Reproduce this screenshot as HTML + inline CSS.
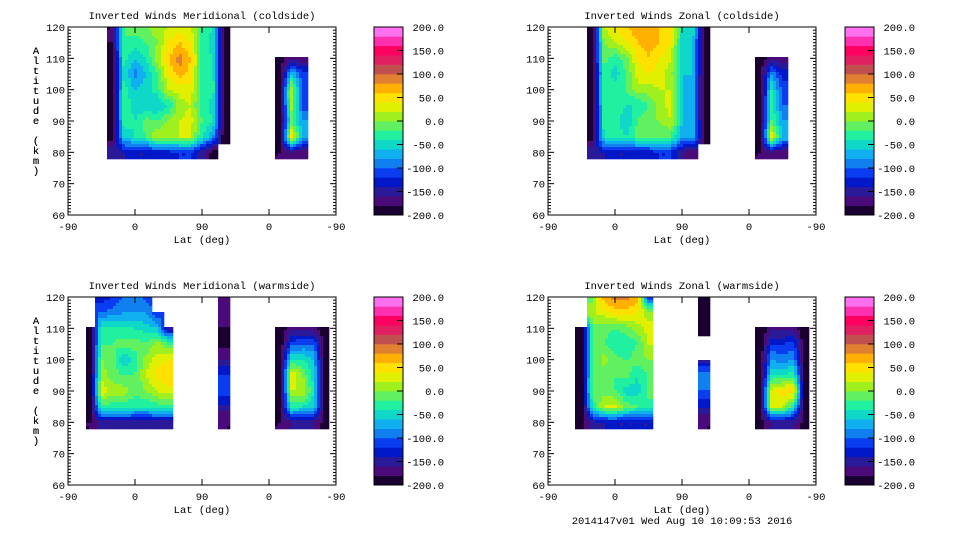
<!DOCTYPE html>
<html><head><meta charset="utf-8"><style>
html,body{margin:0;padding:0;background:#fff;width:960px;height:540px;overflow:hidden}
svg{display:block}
text{font-family:"Liberation Mono",monospace;font-size:10.5px;fill:#000}
</style></head><body>
<svg id="chart" width="960" height="540" viewBox="0 0 960 540" xmlns="http://www.w3.org/2000/svg"></svg>
<script>
// grid categories
const uCols = [0,15,30,45,60,75,90,105,120,135,150,165,180,195,210,225,240,255,270,285,300,315,330,345,360];
const altRows = [120,115,110,105,100,95,90,85,80];
const xTickU = [0,90,180,270,360];
const xTickLabels = ["-90","0","90","0","-90"];
const yTickVals = [60,70,80,90,100,110,120];
const cbTickVals = [200,150,100,50,0,-50,-100,-150,-200];
const N = null;
// values per column index (rows 120..80)
const merCold = {
 4:[-180,-180,-200,-200,-200,-200,-200,-190,-150],
 5:[-20,-20,-30,-40,-30,-20,-30,-50,-140],
 6:[-10,-30,-60,-90,-60,-50,-40,-40,-140],
 7:[0,-20,-40,-60,-50,-60,-10,-20,-140],
 8:[10,0,10,-20,-30,-60,-20,20,-130],
 9:[20,40,60,40,20,-40,0,20,-130],
 10:[30,60,90,70,30,10,20,20,-120],
 11:[20,40,60,50,30,20,30,20,-120],
 12:[-20,-30,-30,-30,-30,-30,-20,-40,-150],
 13:[-40,-50,-40,-40,-30,-50,-40,-80,-190],
 14:[-200,-200,-200,-200,-200,-200,-200,-200,N],
 19:[N,N,-190,-200,-200,-200,-200,-200,-180],
 20:[N,N,-170,-60,20,10,-20,50,-170],
 21:[N,N,-180,-110,-120,-110,-80,-60,-180]
};
const zonCold = {
 4:[-200,-200,-200,-200,-200,-200,-200,-190,-150],
 5:[20,0,-10,-30,-20,-30,-30,-40,-140],
 6:[40,20,-30,-50,-30,-30,-20,-30,-140],
 7:[60,40,-10,-20,-20,-40,-60,-40,-140],
 8:[70,60,40,30,10,-40,-20,-10,-130],
 9:[70,70,60,40,10,-20,0,-10,-130],
 10:[60,60,40,30,20,10,0,-20,-120],
 11:[50,40,20,10,20,30,20,-20,-120],
 12:[-40,-50,-50,-60,-60,-60,-60,-70,-160],
 13:[-50,-60,-60,-60,-70,-70,-60,-60,-180],
 14:[-200,-200,-200,-200,-200,-200,-200,-200,N],
 19:[N,N,-190,-200,-200,-200,-200,-200,-180],
 20:[N,N,-170,-80,-40,-20,-20,40,-170],
 21:[N,N,-170,-130,-110,-100,-80,-60,-170]
};
const merWarm = {
 2:[N,N,-190,-200,-200,-200,-200,-200,-180],
 3:[-130,-100,-30,-20,0,10,40,-30,-150],
 4:[-120,-90,-30,-20,-10,-10,10,-30,-150],
 5:[-100,-80,-40,-10,-60,-20,10,-30,-150],
 6:[-90,-80,-40,-10,-30,-20,-10,-40,-150],
 7:[-110,-80,-50,-20,10,20,0,-40,-150],
 8:[N,-120,-60,10,30,50,20,-30,-150],
 9:[N,N,-150,-20,40,60,30,-30,-150],
 14:[-170,-160,-180,-190,-160,-120,-100,-150,-180],
 19:[N,N,-190,-200,-200,-200,-200,-200,-180],
 20:[N,N,-170,-110,-40,40,20,-30,-160],
 21:[N,N,-170,-100,-40,0,20,-40,-160],
 22:[N,N,-170,-100,-60,-50,-40,-50,-160],
 23:[N,N,-200,-200,-200,-200,-200,-200,-190]
};
const zonWarm = {
 3:[N,N,-200,-200,-200,-200,-200,-200,-190],
 4:[-10,20,-10,-20,-20,-10,0,-40,-150],
 5:[70,30,-10,-20,10,-10,-10,20,-140],
 6:[90,50,-20,-40,-10,-20,-20,30,-140],
 7:[90,50,-10,-40,-20,-10,-50,-10,-140],
 8:[70,40,10,-20,-10,-40,-50,-20,-140],
 9:[-120,10,30,20,0,-20,-10,-30,-140],
 14:[-190,-190,-190,N,-160,-80,-100,-140,-180],
 19:[N,N,-200,-200,-200,-200,-200,-200,-190],
 20:[N,N,-170,-120,-80,-40,30,20,-160],
 21:[N,N,-170,-120,-90,-40,50,20,-160],
 22:[N,N,-170,-110,-80,-30,60,-40,-160],
 23:[N,N,-200,-200,-200,-200,-200,-200,-190]
};
const binColors = ["#1a0030","#4a0a7a","#2a1a9a","#0018c8","#0a3cf0","#1080f0","#10b0f0","#10d8c8","#20f0a0","#60f060","#a0f020","#e0f000","#ffe000","#ffb000","#e08030","#c05050","#e02060","#ff0060","#ff30b0","#ff70f0"];

const NS="http://www.w3.org/2000/svg";
const svg=document.getElementById('chart');
function mk(tag,attrs,parent){const e=document.createElementNS(NS,tag);for(const k in attrs)e.setAttribute(k,attrs[k]);(parent||svg).appendChild(e);return e;}
function colorOf(v){let i=Math.floor((v+200)/20);if(i<0)i=0;if(i>19)i=19;return binColors[i];}

const PW=268,PH=188;
const panels=[
 {x0:68,y0:27,cb:374,title:"Inverted Winds Meridional (coldside)",data:merCold,name:"meridional-coldside"},
 {x0:548,y0:27,cb:845,title:"Inverted Winds Zonal (coldside)",data:zonCold,name:"zonal-coldside"},
 {x0:68,y0:297,cb:374,title:"Inverted Winds Meridional (warmside)",data:merWarm,name:"meridional-warmside"},
 {x0:548,y0:297,cb:845,title:"Inverted Winds Zonal (warmside)",data:zonWarm,name:"zonal-warmside"}
];

function getV(data,ci,ri){const c=data[ci];if(!c)return null;if(ri<0||ri>=altRows.length)return null;const v=c[ri];return v===undefined?null:v;}

panels.forEach(p=>{
 const g=mk('g',{});
 
 
 const xS=u=>p.x0+u/360*PW;
 const yS=a=>p.y0+(120-a)/60*PH;
 const uStep=uCols[1]-uCols[0], aStep=altRows[0]-altRows[1];
 const hm=mk('g',{},g);
 
 
 const cs=3;
 for(let py=0;py<PH;py+=cs){
  for(let px=0;px<PW;px+=cs){
   const u=(px+cs/2)/PW*360, a=120-(py+cs/2)/PH*60;
   const ci=Math.round(u/uStep), ri=Math.round((120-a)/aStep);
   if(ri<0||ri>=altRows.length)continue;
   if(a<altRows[altRows.length-1]-aStep/2)continue;
   if(getV(p.data,ci,ri)===null)continue;
   // don't extend above a block's top row
   if(a>altRows[ri] && getV(p.data,ci,ri-1)===null && ri>0)continue;
   const fu=u/uStep, fr=(120-a)/aStep;
   const c0=Math.floor(fu), r0=Math.floor(fr);
   let s=0,w=0;
   for(const [cc,rr,ww] of [[c0,r0,(1-(fu-c0))*(1-(fr-r0))],[c0+1,r0,(fu-c0)*(1-(fr-r0))],[c0,r0+1,(1-(fu-c0))*(fr-r0)],[c0+1,r0+1,(fu-c0)*(fr-r0)]]){
     const rc=Math.min(Math.max(rr,0),altRows.length-1);
     const v=getV(p.data,cc,rc); if(v!==null&&ww>0){s+=v*ww;w+=ww;}
   }
   const val=w>0?s/w:getV(p.data,ci,ri);
   const r=mk('rect',{x:p.x0+px,y:p.y0+py,width:cs+0.3,height:cs+0.3,fill:colorOf(val)},hm);
   
   
  }
 }
 const fr=mk('rect',{x:p.x0,y:p.y0,width:PW,height:PH,fill:'none',stroke:'#000','stroke-width':1},g);
 
 
 for(let a=60;a<=120;a++){
  const y=yS(a), L=(a%10===0)?6:3;
  mk('line',{x1:p.x0,x2:p.x0+L,y1:y,y2:y,stroke:'#000'},g);
  mk('line',{x1:p.x0+PW,x2:p.x0+PW-L,y1:y,y2:y,stroke:'#000'},g);
 }
 yTickVals.forEach(a=>{
  const t=mk('text',{x:p.x0-3,y:yS(a)+4,'text-anchor':'end'},g);t.textContent=a;
  
  
 });
 xTickU.forEach((u,i)=>{
  const x=xS(u);
  mk('line',{x1:x,x2:x,y1:p.y0+PH,y2:p.y0+PH-6,stroke:'#000'},g);
  mk('line',{x1:x,x2:x,y1:p.y0,y2:p.y0+6,stroke:'#000'},g);
  const t=mk('text',{x:x,y:p.y0+PH+15,'text-anchor':'middle'},g);t.textContent=xTickLabels[i];
  
  
 });
 const xt=mk('text',{x:p.x0+PW/2,y:p.y0+PH+28,'text-anchor':'middle'},g);xt.textContent="Lat (deg)";
 
 
 const tt=mk('text',{x:p.x0+PW/2,y:p.y0-8,'text-anchor':'middle'},g);tt.textContent=p.title;
 
 
 const yt=mk('text',{x:36,y:p.y0+27,'text-anchor':'middle'},g);
 
 
 "Altitude (km)".split('').forEach((ch,i)=>{const ts=mk('tspan',{x:36,y:p.y0+27+i*10},yt);ts.textContent=ch;});
 const cb=mk('g',{},g);
 
 
 const cby=v=>p.y0+(200-v)/400*PH;
 binColors.forEach((c,i)=>{
  const lo=-200+i*20;
  const r=mk('rect',{x:p.cb,y:cby(lo+20),width:29,height:cby(lo)-cby(lo+20)+0.3,fill:c},cb);
  
  
 });
 mk('rect',{x:p.cb,y:p.y0,width:29,height:PH,fill:'none',stroke:'#000'},cb);
 cbTickVals.forEach(v=>{
  const y=cby(v);
  mk('line',{x1:p.cb+29,x2:p.cb+23,y1:y,y2:y,stroke:'#000'},cb);
  const t=mk('text',{x:p.cb+70,y:y+4,'text-anchor':'end'},cb);t.textContent=v.toFixed(1);
  
  
 });
});
const ts=mk('text',{x:682,y:524,'text-anchor':'middle'});ts.textContent="2014147v01 Wed Aug 10 10:09:53 2016";


</script>
</body></html>
